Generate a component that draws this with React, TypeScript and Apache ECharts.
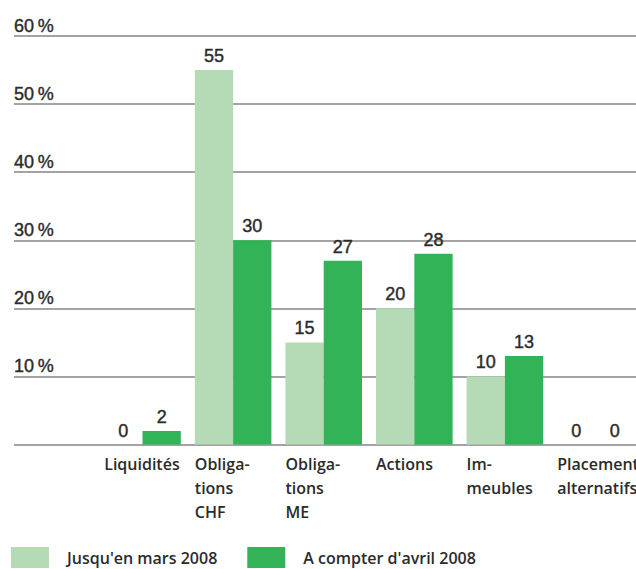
import React, { useEffect, useRef } from "react";
import * as echarts from "echarts";

const categories = [
  "Liquidités",
  "Obliga-\ntions\nCHF",
  "Obliga-\ntions\nME",
  "Actions",
  "Im-\nmeubles",
  "Placements\nalternatifs",
];
const seriesNames = ["Jusqu'en mars 2008", "A compter d'avril 2008"];
const untilMarch2008 = [0, 55, 15, 20, 10, 0];
const fromApril2008 = [2, 30, 27, 28, 13, 0];
const yTicks = { min: 0, max: 60, interval: 10 };

const LIGHT = "#b4dbb6";
const DARK = "#33b357";
const TEXT = "#2b2b2b";
const NUM_FONT = "'Liberation Sans', Arial, sans-serif";
const CAT_FONT = "'Open Sans', 'Noto Sans', sans-serif";

export default function App() {
  const ref = useRef<HTMLDivElement>(null);
  useEffect(() => {
    if (!ref.current) return;
    document.body.style.margin = "0";
    document.body.style.overflow = "hidden";
    const chart = echarts.init(ref.current, null, { renderer: "svg" });
    const top = 36;
    const bottom = 124.5;
    const numLabel = {
      show: true,
      position: "top",
      distance: 5,
      fontFamily: NUM_FONT,
      fontSize: 18,
      color: TEXT,
      textBorderColor: TEXT,
      textBorderWidth: 0.4,
    };
    chart.setOption({
      animation: false,
      backgroundColor: "#ffffff",
      grid: [
        { left: 14, right: 0, top, bottom, outerBoundsMode: "none", containLabel: false },
        { left: 97.2, width: 543.6, top, bottom, outerBoundsMode: "none", containLabel: false },
      ],
      xAxis: [
        { type: "value", gridIndex: 0, show: false },
        {
          type: "category",
          gridIndex: 1,
          data: categories,
          axisLine: { show: false },
          axisTick: { show: false },
          axisLabel: {
            interval: 0,
            margin: 7,
            hideOverlap: false,
            formatter: (v: string) =>
              v
                .split("\n")
                .map((l) => `{a|${l}}`)
                .join("\n"),
            rich: {
              a: {
                width: 76.6,
                align: "left",
                fontFamily: CAT_FONT,
                fontWeight: 600,
                fontSize: 16,
                lineHeight: 24,
                color: TEXT,
              },
            },
          },
        },
      ],
      yAxis: [
        {
          type: "value",
          gridIndex: 0,
          ...yTicks,
          axisLine: { show: false },
          axisTick: { show: false },
          splitLine: { show: true, lineStyle: { color: "#858585", width: 1.5 } },
          axisLabel: {
            inside: true,
            margin: 0,
            verticalAlign: "bottom",
            lineHeight: 18,
            padding: [0, 0, 1, 0],
            fontFamily: NUM_FONT,
            fontSize: 18,
            color: TEXT,
            textBorderColor: TEXT,
            textBorderWidth: 0.4,
            formatter: (v: number) => (v === 0 ? "" : `${v}\u2009%`),
          },
        },
        {
          type: "value",
          gridIndex: 1,
          ...yTicks,
          show: false,
          splitLine: { show: false },
        },
      ],
      legend: {
        left: 6,
        top: 542,
        icon: "rect",
        itemWidth: 38,
        itemHeight: 21,
        itemGap: 30,
        textStyle: {
          fontFamily: CAT_FONT,
          fontWeight: 600,
          fontSize: 16,
          color: TEXT,
          padding: [0, 0, 0, 13],
        },
        data: seriesNames,
      },
      series: [
        {
          name: seriesNames[0],
          type: "bar",
          xAxisIndex: 1,
          yAxisIndex: 1,
          data: untilMarch2008,
          barWidth: 38.3,
          barGap: "0%",
          itemStyle: { color: LIGHT },
          label: numLabel,
        },
        {
          name: seriesNames[1],
          type: "bar",
          xAxisIndex: 1,
          yAxisIndex: 1,
          data: fromApril2008,
          barWidth: 38.3,
          barGap: "0%",
          itemStyle: { color: DARK },
          label: numLabel,
        },
      ],
    });
    return () => chart.dispose();
  }, []);
  return <div ref={ref} style={{ width: 636, height: 569 }} />;
}
